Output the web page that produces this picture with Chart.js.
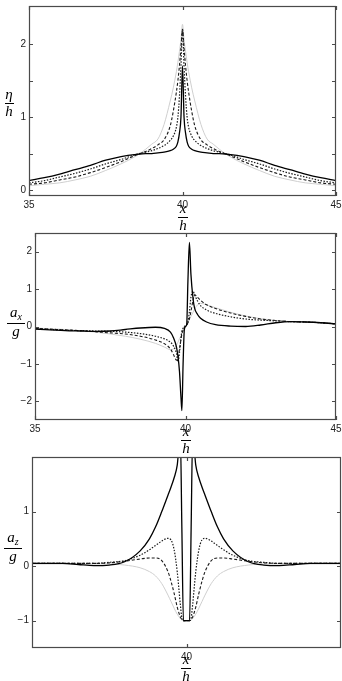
<!DOCTYPE html>
<html>
<head>
<meta charset="utf-8">
<script src="https://cdn.jsdelivr.net/npm/chart.js@4.4.1/dist/chart.umd.min.js"></script>
<style>
  body { margin: 0; background: #fff; }
  #wrap { position: relative; width: 342px; height: 681px; overflow: hidden; background: #fff; }
  canvas { position: absolute; left: 0; }
  .frac { position: absolute; height: 40px; font-family: "Liberation Serif", "DejaVu Serif", serif; font-style: italic; font-size: 15px; color: #000; text-align: center; }
  .frac .num { position: absolute; left: -6px; right: -6px; bottom: 21px; line-height: 1; }
  .frac .bar { position: absolute; left: 0; right: 0; top: 20px; height: 1px; background: #000; }
  .frac .den { position: absolute; left: -6px; right: -6px; top: 21px; line-height: 1; }
  .frac sub { font-size: 10px; vertical-align: -3px; }
</style>
</head>
<body>
<div id="wrap">
  <canvas id="etaChart" width="342" height="230" style="top:0px"></canvas>
  <canvas id="axChart" width="342" height="226" style="top:228px"></canvas>
  <canvas id="azChart" width="342" height="229" style="top:452px"></canvas>
</div>
<script>
// panel 1: eta/h
const etaX = [35, 35.5, 36, 36.5, 37, 37.5, 38, 38.5, 38.8, 39, 39.2, 39.4, 39.6, 39.7, 39.8, 39.85, 39.9, 39.95,
  40, 40.05, 40.1, 40.15, 40.2, 40.3, 40.4, 40.6, 40.8, 41, 41.2, 41.5, 42, 42.5, 43, 43.5, 44, 44.5, 45];
const etaSolid = [0.13, 0.17, 0.22, 0.28, 0.34, 0.41, 0.46, 0.49, 0.5, 0.5, 0.51, 0.52, 0.54, 0.56, 0.6, 0.66, 0.78, 1.0,
  1.7, 1.0, 0.78, 0.66, 0.6, 0.56, 0.54, 0.52, 0.51, 0.5, 0.5, 0.49, 0.46, 0.41, 0.34, 0.28, 0.22, 0.17, 0.13];
const etaDotted = [0.1, 0.13, 0.18, 0.23, 0.29, 0.36, 0.42, 0.49, 0.52, 0.54, 0.57, 0.61, 0.68, 0.74, 0.86, 1.0, 1.28, 1.7,
  2.2, 1.7, 1.28, 1.0, 0.86, 0.74, 0.68, 0.61, 0.57, 0.54, 0.52, 0.49, 0.42, 0.36, 0.29, 0.23, 0.18, 0.13, 0.1];
const etaDashed = [0.08, 0.1, 0.14, 0.18, 0.24, 0.31, 0.39, 0.48, 0.53, 0.57, 0.62, 0.69, 0.88, 1.08, 1.34, 1.5, 1.7, 1.95,
  2.2, 1.95, 1.7, 1.5, 1.34, 1.08, 0.88, 0.69, 0.62, 0.57, 0.53, 0.48, 0.39, 0.31, 0.24, 0.18, 0.14, 0.1, 0.08];
const etaGrey = [0.06, 0.08, 0.1, 0.14, 0.19, 0.27, 0.36, 0.47, 0.56, 0.63, 0.7, 0.9, 1.22, 1.4, 1.62, 1.75, 1.9, 2.06,
  2.27, 2.06, 1.9, 1.75, 1.62, 1.4, 1.22, 0.9, 0.7, 0.63, 0.56, 0.47, 0.36, 0.27, 0.19, 0.14, 0.1, 0.08, 0.06];
const etaTicks = [0, 0.5, 1, 1.5, 2];

// panel 2: a_x/g
const axX = [35, 35.5, 36, 36.5, 37, 37.5, 38, 38.5, 39, 39.3, 39.5, 39.6, 39.7, 39.75, 39.8, 39.85, 39.88, 39.92, 39.96,
  40, 40.04, 40.08, 40.13, 40.18, 40.25, 40.3, 40.4, 40.5, 40.7, 41, 41.5, 42, 42.5, 43, 43.5, 44, 44.5, 45];
const axSolid = [-0.07, -0.09, -0.11, -0.12, -0.13, -0.12, -0.08, -0.04, -0.02, -0.05, -0.15, -0.3, -0.55, -0.8, -1.2, -1.9, -2.25, -1.0, -0.1,
  0.0, 0.05, 1.2, 2.25, 1.4, 0.75, 0.5, 0.32, 0.22, 0.12, 0.05, 0.01, 0.0, 0.04, 0.1, 0.13, 0.12, 0.1, 0.07];
const axDotted = [-0.06, -0.08, -0.1, -0.11, -0.12, -0.13, -0.15, -0.19, -0.26, -0.33, -0.42, -0.52, -0.72, -0.95, -0.7, -0.3, -0.12, -0.05, 0.0,
  0.02, 0.05, 0.12, 0.4, 0.78, 0.95, 0.85, 0.68, 0.56, 0.44, 0.35, 0.26, 0.2, 0.17, 0.15, 0.13, 0.12, 0.1, 0.07];
const axDashed = [-0.05, -0.07, -0.09, -0.11, -0.14, -0.17, -0.2, -0.26, -0.36, -0.46, -0.6, -0.75, -0.9, -0.85, -0.6, -0.35, -0.2, -0.1, -0.03,
  0.0, 0.04, 0.1, 0.2, 0.4, 0.7, 0.85, 0.78, 0.7, 0.58, 0.48, 0.36, 0.27, 0.2, 0.16, 0.13, 0.12, 0.1, 0.07];
const axGrey = [-0.04, -0.06, -0.08, -0.11, -0.15, -0.2, -0.26, -0.34, -0.45, -0.55, -0.62, -0.6, -0.5, -0.42, -0.33, -0.25, -0.2, -0.13, -0.06,
  0.0, 0.06, 0.13, 0.2, 0.27, 0.38, 0.46, 0.58, 0.62, 0.58, 0.5, 0.38, 0.28, 0.21, 0.16, 0.13, 0.12, 0.1, 0.07];
const axTicks = [-2, -1, 0, 1, 2];

// panel 3: a_z/g
const azX = [35, 35.5, 36, 36.5, 37, 37.5, 38, 38.5, 38.8, 39, 39.2, 39.4, 39.5, 39.6, 39.7, 39.8, 39.85, 39.9, 39.95,
  40, 40.05, 40.1, 40.15, 40.2, 40.3, 40.4, 40.5, 40.6, 40.8, 41, 41.2, 41.5, 42, 42.5, 43, 43.5, 44, 44.5, 45];
const azSolid = [0.05, 0.05, 0.05, 0.03, 0.01, 0.02, 0.08, 0.28, 0.5, 0.72, 1.0, 1.3, 1.45, 1.62, 1.85, 2.4, 0.7, -1.0, -1.0,
  -1.0, -1.0, -1.0, 0.7, 2.4, 1.85, 1.62, 1.45, 1.3, 1.0, 0.72, 0.5, 0.28, 0.08, 0.02, 0.01, 0.03, 0.05, 0.05, 0.05];
const azDotted = [0.05, 0.05, 0.05, 0.05, 0.05, 0.07, 0.1, 0.2, 0.3, 0.38, 0.46, 0.51, 0.48, 0.3, -0.1, -0.7, -0.95, -1.0, -1.0,
  -1.0, -1.0, -1.0, -0.95, -0.7, -0.1, 0.3, 0.48, 0.51, 0.46, 0.38, 0.3, 0.2, 0.1, 0.07, 0.05, 0.05, 0.05, 0.05, 0.05];
const azDashed = [0.05, 0.05, 0.05, 0.05, 0.05, 0.06, 0.09, 0.13, 0.15, 0.15, 0.1, -0.1, -0.28, -0.5, -0.75, -0.93, -0.98, -1.0, -1.0,
  -1.0, -1.0, -1.0, -0.98, -0.93, -0.75, -0.5, -0.28, -0.1, 0.1, 0.15, 0.15, 0.13, 0.09, 0.06, 0.05, 0.05, 0.05, 0.05, 0.05];
const azGrey = [0.04, 0.04, 0.04, 0.04, 0.04, 0.04, 0.02, -0.03, -0.1, -0.18, -0.32, -0.53, -0.65, -0.77, -0.88, -0.96, -0.99, -1.0, -1.0,
  -1.0, -1.0, -1.0, -0.99, -0.96, -0.88, -0.77, -0.65, -0.53, -0.32, -0.18, -0.1, -0.03, 0.02, 0.04, 0.04, 0.04, 0.04, 0.04, 0.04];
const azTicks = [-1, 0, 1];

const xTicksFull = [35, 40, 45];
const xTicksMid = [40];

// styles of the four curves
const lineStyles = [
  { color: "#000000", width: 1.3, dash: [] },
  { color: "#1a1a1a", width: 1.2, dash: [1.5, 1.5] },
  { color: "#1a1a1a", width: 1.1, dash: [3, 2] },
  { color: "#cfcfcf", width: 1, dash: [] },
];

function toPoints(xs, ys) {
  return xs.map((x, i) => ({ x: x, y: ys[i] }));
}

function fmt(v) {
  if (!Number.isInteger(v)) return "";
  return v < 0 ? "\u2212" + Math.abs(v) : String(v);
}

// box round the plot and matlab-like inward ticks
const framePlugin = {
  id: "frame",
  afterDatasetsDraw(chart) {
    const { ctx, chartArea: a, scales } = chart;
    ctx.save();
    ctx.strokeStyle = "#4a4a4a";
    ctx.lineWidth = 1.2;
    ctx.strokeRect(a.left + 0.5, a.top + 0.5, a.right - a.left - 1, a.bottom - a.top - 1);
    ctx.beginPath();
    scales.x.ticks.forEach((t) => {
      const px = Math.round(scales.x.getPixelForValue(t.value)) + 0.5;
      ctx.moveTo(px, a.bottom);
      ctx.lineTo(px, a.bottom - 4);
      ctx.moveTo(px, a.top);
      ctx.lineTo(px, a.top + 4);
    });
    scales.y.ticks.forEach((t) => {
      const py = Math.round(scales.y.getPixelForValue(t.value)) + 0.5;
      ctx.moveTo(a.left, py);
      ctx.lineTo(a.left + 4, py);
      ctx.moveTo(a.right, py);
      ctx.lineTo(a.right - 4, py);
    });
    ctx.stroke();
    ctx.restore();
  },
};

function makePanel(id, xs, series, cfg) {
  const datasets = series.map((ys, i) => ({
    data: toPoints(xs, ys),
    borderColor: lineStyles[i].color,
    borderWidth: lineStyles[i].width,
    borderDash: lineStyles[i].dash,
    pointRadius: 0,
    cubicInterpolationMode: "monotone",
    fill: false,
  }));
  // grey curve drawn beneath the others
  datasets[3].order = 10;

  const tickFont = { family: "'Liberation Sans', Arial, sans-serif", size: 10 };
  const ctx = document.getElementById(id).getContext("2d");
  return new Chart(ctx, {
    type: "line",
    data: { datasets: datasets },
    options: {
      responsive: false,
      animation: false,
      events: [],
      layout: { padding: cfg.padding },
      plugins: { legend: { display: false }, tooltip: { enabled: false } },
      scales: {
        x: {
          type: "linear",
          min: 35,
          max: 45,
          grid: { display: false, drawTicks: false },
          border: { display: false },
          ticks: { font: tickFont, color: "#222", padding: 3, maxRotation: 0, callback: (v) => fmt(v) },
          afterBuildTicks: (s) => { s.ticks = cfg.xTicks.map((v) => ({ value: v })); },
          afterFit: (s) => {
            s.height = cfg.xHeight;
            s.paddingLeft = 0;
            s.paddingRight = 0;
          },
        },
        y: {
          min: cfg.yMin,
          max: cfg.yMax,
          grid: { display: false, drawTicks: false },
          border: { display: false },
          ticks: { font: tickFont, color: "#222", padding: 3, callback: (v) => fmt(v) },
          afterBuildTicks: (s) => { s.ticks = cfg.yTicks.map((v) => ({ value: v })); },
          afterFit: (s) => {
            s.width = cfg.yWidth;
            s.paddingTop = 0;
            s.paddingBottom = 0;
          },
        },
      },
    },
    plugins: [framePlugin],
  });
}

makePanel("etaChart", etaX, [etaSolid, etaDotted, etaDashed, etaGrey], {
  padding: { top: 6, right: 6, left: 0, bottom: 0 },
  yWidth: 29, xHeight: 34, yMin: -0.08, yMax: 2.52,
  yTicks: etaTicks, xTicks: xTicksFull,
});

makePanel("axChart", axX, [axSolid, axDotted, axDashed, axGrey], {
  padding: { top: 5, right: 6, left: 0, bottom: 0 },
  yWidth: 35, xHeight: 34, yMin: -2.5, yMax: 2.5,
  yTicks: axTicks, xTicks: xTicksFull,
});

makePanel("azChart", azX, [azSolid, azDotted, azDashed, azGrey], {
  padding: { top: 5, right: 1, left: 0, bottom: 0 },
  yWidth: 32, xHeight: 33, yMin: -1.5, yMax: 2,
  yTicks: azTicks, xTicks: xTicksMid,
});

// axis titles as stacked fractions
function addFraction(numHtml, den, cx, lineY, w) {
  const d = document.createElement("div");
  d.className = "frac";
  d.style.left = cx - w / 2 + "px";
  d.style.top = lineY - 20 + "px";
  d.style.width = w + "px";
  d.innerHTML = '<div class="num">' + numHtml + '</div><div class="bar"></div><div class="den">' + den + "</div>";
  document.getElementById("wrap").appendChild(d);
}

addFraction("\u03b7", "h", 9, 103, 9);
addFraction("x", "h", 183, 217, 10);
addFraction("a<sub>x</sub>", "g", 16, 323, 18);
addFraction("x", "h", 186, 440, 10);
addFraction("a<sub>z</sub>", "g", 13, 548, 18);
addFraction("x", "h", 186, 668, 10);
</script>
</body>
</html>
